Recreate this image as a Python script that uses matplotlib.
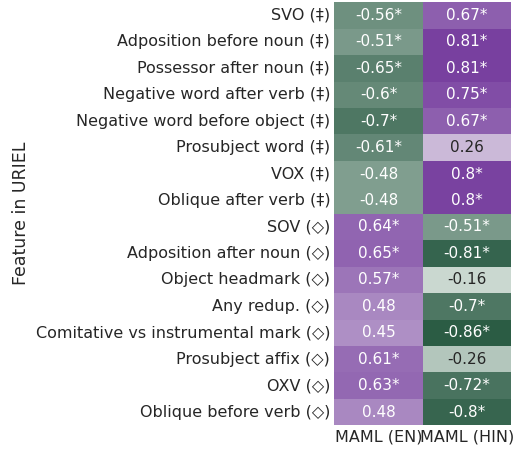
import numpy as np
import pandas as pd
import seaborn as sns
import matplotlib.pyplot as plt

features = [
    "SVO (‡)", "Adposition before noun (‡)", "Possessor after noun (‡)",
    "Negative word after verb (‡)", "Negative word before object (‡)",
    "Prosubject word (‡)", "VOX (‡)", "Oblique after verb (‡)",
    "SOV (◇)", "Adposition after noun (◇)", "Object headmark (◇)",
    "Any redup. (◇)", "Comitative vs instrumental mark (◇)",
    "Prosubject affix (◇)", "OXV (◇)", "Oblique before verb (◇)",
]
maml_en = [-0.56, -0.51, -0.65, -0.6, -0.7, -0.61, -0.48, -0.48,
           0.64, 0.65, 0.57, 0.48, 0.45, 0.61, 0.63, 0.48]
maml_hin = [0.67, 0.81, 0.81, 0.75, 0.67, 0.26, 0.8, 0.8,
            -0.51, -0.81, -0.16, -0.7, -0.86, -0.26, -0.72, -0.8]
sig_en = [1, 1, 1, 1, 1, 1, 0, 0, 1, 1, 1, 0, 0, 1, 1, 0]
sig_hin = [1, 1, 1, 1, 1, 0, 1, 1, 1, 1, 0, 1, 1, 0, 1, 1]
columns = ["MAML (EN)", "MAML (HIN)"]

df = pd.DataFrame({columns[0]: maml_en, columns[1]: maml_hin}, index=features)
labels = np.array([
    [f"{v:g}" + ("*" if s else "") for v, s in zip(maml_en, sig_en)],
    [f"{v:g}" + ("*" if s else "") for v, s in zip(maml_hin, sig_hin)],
]).T

sns.set_theme(style="white")
cmap = sns.diverging_palette(148, 285, s=70, l=35, as_cmap=True)

fig, ax = plt.subplots(figsize=(5.16, 4.5), dpi=100)
sns.heatmap(df, annot=labels, fmt="", cmap=cmap, center=0, vmin=-0.86, vmax=0.86,
            cbar=False, ax=ax, annot_kws={"fontsize": 11})
ax.set_ylabel("Feature in URIEL", fontsize=12.5)
ax.tick_params(axis="both", length=0, labelsize=11.5, pad=3)
plt.yticks(rotation=0)
plt.xticks(rotation=0)
plt.subplots_adjust(left=0.648, right=0.99, top=0.995, bottom=0.055)
plt.savefig("out.png")
